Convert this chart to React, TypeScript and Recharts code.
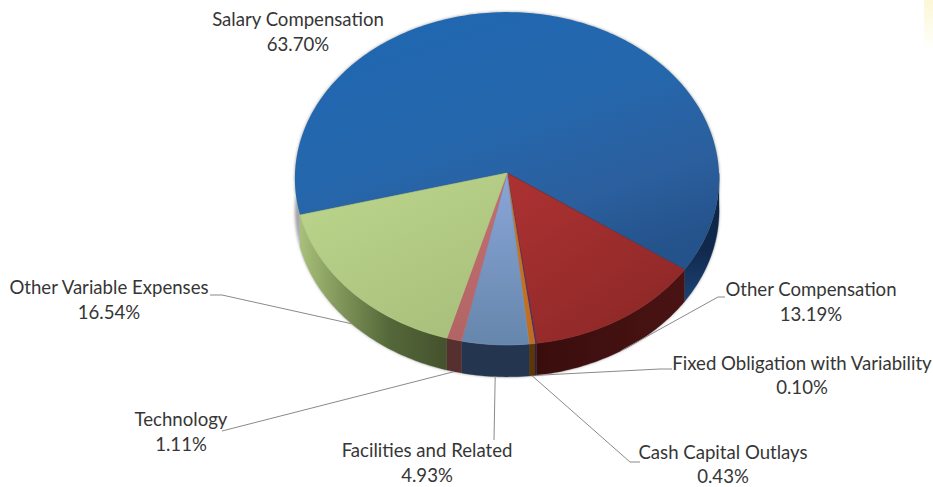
import React from 'react'
import { Pie, PieChart } from 'recharts'

const categories = [
  'Salary Compensation',
  'Other Compensation',
  'Fixed Obligation with Variability',
  'Cash Capital Outlays',
  'Facilities and Related',
  'Technology',
  'Other Variable Expenses',
]
const shares = [63.7, 13.19, 0.1, 0.43, 4.93, 1.11, 16.54]

const tableData = categories.map((name, i) => ({ name, value: shares[i] }))

// where each label sits and where its leader bends
const labelCenters = [
  [298, 26, 25],
  [811, 296, 25],
  [802, 370, 24],
  [723, 459, 24],
  [427, 457, 25],
  [181, 426, 25],
  [109, 294, 25],
]
const leaderElbows = [
  null,
  [[718, 297], [725, 297]],
  [[660, 369], [672, 369]],
  [[630, 462], [640, 462]],
  [[494, 440]],
  [[222, 431]],
  [[222, 295], [210, 295]],
]

const faceFills = ['url(#f0)', 'url(#f1)', '#3b2f78', 'url(#f3)', 'url(#f4)', 'url(#f5)', 'url(#f6)']
const wallFills = ['url(#w0)', 'url(#w1)', '#2a2050', '#5c3508', '#243550', '#55302e', 'url(#w6)']
const faceStrokes = ['none', '#8f2a2a', '#3b2f78', '#c4701e', '#7390bb', '#b86a6a', '#b2ca84']

const SQUASH = 0.784
const TILT = 0.033
const DEPTH = 32

// tilted disc: a point of the pie circle seen in perspective
const project = (cx: number, cy: number, r: number, deg: number, drop = 0) => {
  const a = (-deg * Math.PI) / 180
  const u = Math.cos(a)
  const v = Math.sin(a)
  const d = 1 - TILT * v
  return [cx + (r * u) / d, cy + (r * SQUASH * v) / d + drop]
}

const arcPoints = (p: any, drop = 0) => {
  const steps = Math.max(2, Math.ceil(Math.abs(p.endAngle - p.startAngle)))
  const pts = []
  for (let i = 0; i <= steps; i++) {
    const deg = p.startAngle + ((p.endAngle - p.startAngle) * i) / steps
    pts.push(project(p.cx, p.cy, p.outerRadius, deg, drop))
  }
  return pts
}

const toPath = (pts: number[][]) =>
  'M' + pts.map((q) => q[0].toFixed(2) + ',' + q[1].toFixed(2)).join('L') + 'Z'

const facePath = (p: any) => toPath([[p.cx, p.cy], ...arcPoints(p)])
const wallPath = (p: any) => toPath([...arcPoints(p), ...arcPoints(p, DEPTH).reverse()])

const ShadowShape = (p: any) => (
  <g filter="url(#soft)" fill="#555" opacity={0.55}>
    <path d={wallPath(p)} />
    <path d={facePath(p)} />
  </g>
)

// the big slice only shows its side on the right, the left sliver stays hidden
const WallShape = (p: any) => {
  const visible = p.index === 0 ? { ...p, startAngle: -360 } : p
  return (
    <path d={wallPath(visible)} fill={wallFills[p.index]} stroke={wallFills[p.index]} strokeWidth={0.3} />
  )
}

const FaceShape = (p: any) => {
  const first = project(p.cx, p.cy, p.outerRadius, p.startAngle)
  const last = project(p.cx, p.cy, p.outerRadius, p.endAngle)
  return (
    <g>
      <path d={facePath(p)} fill={faceFills[p.index]} stroke={faceStrokes[p.index]} strokeWidth={0.7} />
      {p.index === 0 && (
        <polyline
          points={[first, [p.cx, p.cy], last].map((q) => q.join(',')).join(' ')}
          fill="none"
          stroke="#1b3f6b"
          strokeWidth={0.9}
        />
      )}
    </g>
  )
}

const renderLeader = (p: any) => {
  const elbow = leaderElbows[p.index]
  if (!elbow) return <g />
  const start = project(p.cx, p.cy, p.outerRadius, p.midAngle, DEPTH)
  return (
    <polyline
      points={[start, ...elbow].map((q) => q.join(',')).join(' ')}
      fill="none"
      stroke="#8a8a8a"
      strokeWidth={1}
    />
  )
}

const renderLabel = (p: any) => {
  const [x, y, gap] = labelCenters[p.index]
  return (
    <text x={x} y={y} textAnchor="middle" fontFamily="Lato" fontSize={18.6} fill="#363636">
      <tspan x={x} dy={0}>{tableData[p.index].name}</tspan>
      <tspan x={x} dy={gap}>{tableData[p.index].value.toFixed(2)}%</tspan>
    </text>
  )
}

const pieProps = {
  data: tableData,
  dataKey: 'value',
  nameKey: 'name',
  cx: 507,
  cy: 173,
  outerRadius: 212,
  startAngle: -165.5,
  endAngle: -525.5,
  stroke: 'none',
  isAnimationActive: false,
}

export default function App() {
  return (
    <div style={{ position: 'absolute', left: 0, top: 0, width: 933, height: 487, background: '#fff' }}>
      <div
        style={{
          position: 'absolute',
          left: 924,
          top: 0,
          width: 9,
          height: 52,
          background: 'linear-gradient(#fcf7d6, #ffffff)',
        }}
      />
      <PieChart width={933} height={487} margin={{ top: 0, right: 0, bottom: 0, left: 0 }} style={{ position: 'absolute' }}>
        <defs>
          <filter id="soft" x="-5%" y="-5%" width="110%" height="115%">
            <feGaussianBlur stdDeviation="1.6" />
          </filter>
          <linearGradient id="f0" x1="0.2" y1="0" x2="0.75" y2="1">
            <stop offset="0" stopColor="#1f67b2" />
            <stop offset="0.45" stopColor="#2567ac" />
            <stop offset="0.75" stopColor="#2b5f9e" />
            <stop offset="1" stopColor="#24528a" />
          </linearGradient>
          <linearGradient id="f1" x1="0" y1="0" x2="0.7" y2="1">
            <stop offset="0" stopColor="#ad3232" />
            <stop offset="1" stopColor="#8e2828" />
          </linearGradient>
          <linearGradient id="f3" x1="0" y1="0" x2="0" y2="1">
            <stop offset="0" stopColor="#d07a1e" />
            <stop offset="1" stopColor="#c06c1e" />
          </linearGradient>
          <linearGradient id="f4" x1="0" y1="0" x2="0" y2="1">
            <stop offset="0" stopColor="#8aa6d8" />
            <stop offset="1" stopColor="#6686ac" />
          </linearGradient>
          <linearGradient id="f5" x1="0" y1="0" x2="0" y2="1">
            <stop offset="0" stopColor="#c37072" />
            <stop offset="1" stopColor="#b26465" />
          </linearGradient>
          <linearGradient id="f6" x1="0" y1="0" x2="0.6" y2="1">
            <stop offset="0" stopColor="#bdd68d" />
            <stop offset="1" stopColor="#a9c17c" />
          </linearGradient>
          <linearGradient id="w0" x1="0" y1="0" x2="0" y2="1">
            <stop offset="0" stopColor="#0c2340" />
            <stop offset="0.6" stopColor="#11294d" />
            <stop offset="1" stopColor="#1c4475" />
          </linearGradient>
          <linearGradient id="w1" x1="0" y1="0" x2="1" y2="0">
            <stop offset="0" stopColor="#3a0d0d" />
            <stop offset="1" stopColor="#4a1313" />
          </linearGradient>
          <linearGradient id="w6" x1="0" y1="0" x2="1" y2="0">
            <stop offset="0" stopColor="#a8c07a" />
            <stop offset="0.25" stopColor="#84995c" />
            <stop offset="0.6" stopColor="#55683a" />
            <stop offset="1" stopColor="#44522d" />
          </linearGradient>
        </defs>
        <Pie {...pieProps} shape={ShadowShape} />
        <Pie {...pieProps} shape={WallShape} />
        <Pie {...pieProps} shape={FaceShape} label={renderLabel} labelLine={renderLeader} />
      </PieChart>
    </div>
  )
}
